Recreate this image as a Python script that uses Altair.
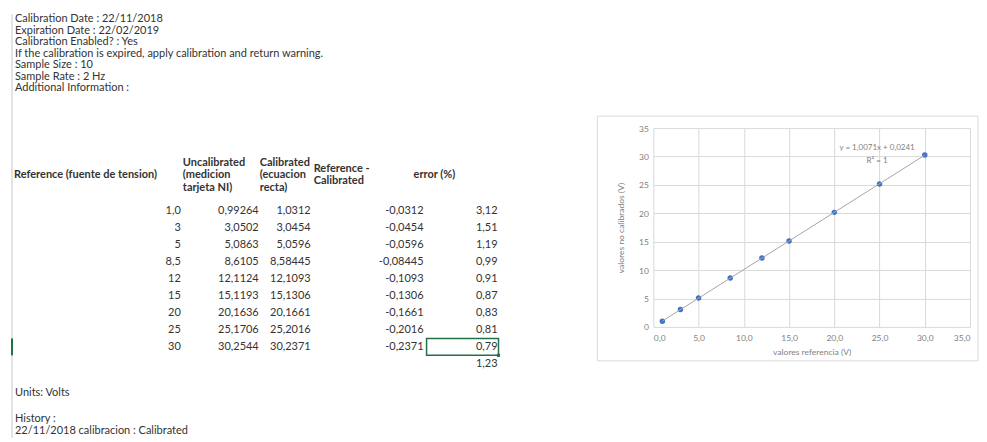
import altair as alt
import pandas as pd

FONT = "Lato"
FS = 11
TXT = "#333333"

# ---------------- data ----------------
info_lines = [
    "Calibration Date : 22/11/2018",
    "Expiration Date : 22/02/2019",
    "Calibration Enabled? : Yes",
    "If the calibration is expired, apply calibration and return warning.",
    "Sample Size : 10",
    "Sample Rate : 2 Hz",
    "Additional Information :",
]
headers = [
    "Reference (fuente de tension)",
    "Uncalibrated\n(medicion\ntarjeta NI)",
    "Calibrated\n(ecuacion\nrecta)",
    "Reference -\nCalibrated",
    "error (%)",
]
reference = [1.0, 3, 5, 8.5, 12, 15, 20, 25, 30]
uncalibrated = [0.99264, 3.0502, 5.0863, 8.6105, 12.1124, 15.1193, 20.1636, 25.1706, 30.2544]
calibrated = [1.0312, 3.0454, 5.0596, 8.58445, 12.1093, 15.1306, 20.1661, 25.2016, 30.2371]
ref_minus_cal = [-0.0312, -0.0454, -0.0596, -0.08445, -0.1093, -0.1306, -0.1661, -0.2016, -0.2371]
error_pct = [3.12, 1.51, 1.19, 0.99, 0.91, 0.87, 0.83, 0.81, 0.79]
error_mean = 1.23
selected_row = 8
footer_lines = ["Units: Volts", "History :", "22/11/2018 calibracion : Calibrated"]
x_ticks = [0, 5, 10, 15, 20, 25, 30, 35]
y_ticks = [0, 5, 10, 15, 20, 25, 30, 35]
trend_label = "y = 1,0071x + 0,0241"
r2_label = "R² = 1"
x_title = "valores referencia (V)"
y_title = "valores no calibrados (V)"


def fmt(v):
    return str(v).replace(".", ",")


columns = [reference, uncalibrated, calibrated, ref_minus_cal, error_pct]
cells = []
for r in range(len(reference)):
    for c, col in enumerate(columns):
        cells.append({"r": r, "c": c, "text": fmt(col[r])})
cells.append({"r": len(reference), "c": 4, "text": fmt(error_mean)})
cells_df = pd.DataFrame(cells)

info_df = pd.DataFrame({"i": list(range(len(info_lines))), "text": info_lines})
head_df = pd.DataFrame({
    "c": list(range(len(headers))),
    "text": headers,
    "n": [h.count("\n") + 1 for h in headers],
})
foot_df = pd.DataFrame({"k": list(range(len(footer_lines))), "text": footer_lines})
sel_df = pd.DataFrame({"r": [selected_row]})
dummy = pd.DataFrame({"a": [0]})
pts_df = pd.DataFrame({"ref": reference, "uncal": uncalibrated})
eq_df = pd.DataFrame({"label": [trend_label + "\n" + r2_label]})

# ---------------- left: spreadsheet ----------------
row_scale = alt.Scale(domain=[0, 9], range=[199, 352], nice=False, zero=False)
col_scale = alt.Scale(domain=[0, 1, 2, 3, 4], range=[172, 250, 302, 415, 489], nice=False, zero=False)
head_scale = alt.Scale(domain=[0, 1, 2, 3, 4], range=[5, 174, 251, 305, 405], nice=False, zero=False)
# first line of a wrapped header moves up so the block stays centred on the row
head_y_scale = alt.Scale(domain=[1, 3], range=[163, 150.5], nice=False, zero=False)

border = alt.Chart(dummy).mark_rule(color="#c8c8c8", strokeWidth=1).encode(
    x=alt.value(3), y=alt.value(2), y2=alt.value(426)
)
sel_base = alt.Chart(sel_df).transform_calculate(top="datum.r - 0.5", bot="datum.r + 0.5")
row_marker = sel_base.mark_rule(color="#217346", strokeWidth=2).encode(
    x=alt.value(3), y=alt.Y("top:Q", scale=row_scale, axis=None), y2="bot:Q"
)
sel_box = sel_base.mark_rect(fillOpacity=0, stroke="#217346", strokeWidth=1.5).encode(
    x=alt.value(418), x2=alt.value(490), y=alt.Y("top:Q", scale=row_scale, axis=None), y2="bot:Q"
)
sel_handle = sel_base.mark_square(size=10, color="#217346", opacity=1).encode(
    x=alt.value(490), y=alt.Y("bot:Q", scale=row_scale, axis=None)
)

info = alt.Chart(info_df).mark_text(
    align="left", baseline="middle", font=FONT, fontSize=FS, color=TXT
).encode(
    x=alt.value(6),
    y=alt.Y("i:Q", scale=alt.Scale(domain=[0, 6], range=[7, 76], nice=False, zero=False), axis=None),
    text="text:N",
)
head = alt.Chart(head_df).mark_text(
    align="left", baseline="middle", font=FONT, fontSize=FS, fontWeight="bold",
    color=TXT, lineBreak="\n", lineHeight=12.5
).encode(
    x=alt.X("c:Q", scale=head_scale, axis=None),
    y=alt.Y("n:Q", scale=head_y_scale, axis=None),
    text="text:N",
)
table = alt.Chart(cells_df).mark_text(
    align="right", baseline="middle", font=FONT, fontSize=FS, color=TXT
).encode(
    x=alt.X("c:Q", scale=col_scale, axis=None),
    y=alt.Y("r:Q", scale=row_scale, axis=None),
    text="text:N",
)
foot = alt.Chart(foot_df).mark_text(
    align="left", baseline="middle", font=FONT, fontSize=FS, color=TXT
).encode(
    x=alt.value(6),
    y=alt.Y("k:Q", scale=alt.Scale(domain=[0, 1, 2], range=[381, 407, 419], nice=False, zero=False), axis=None),
    text="text:N",
)

left = alt.layer(border, row_marker, info, head, table, sel_box, sel_handle, foot).resolve_scale(
    x="independent", y="independent"
).properties(width=500, height=424)

# ---------------- right: Excel scatter ----------------
X_ENC = alt.X("ref:Q", scale=alt.Scale(domain=[0, 35], nice=False, zero=False), axis=alt.Axis(
    values=x_ticks, title=x_title, grid=True, domain=False, ticks=False,
    labelPadding=7, titlePadding=5, labelOverlap=False,
    labelExpr="replace(format(datum.value, '.1f'), '.', ',')"))
Y_ENC = alt.Y("uncal:Q", scale=alt.Scale(domain=[0, 35], nice=False, zero=False), axis=alt.Axis(
    values=y_ticks, tickCount=8, title=y_title, grid=True, domain=False, ticks=False,
    labelPadding=5, titlePadding=13, labelOverlap=False))

frame = alt.Chart(dummy).mark_rect(fillOpacity=0, stroke="#d9d9d9", strokeWidth=1).encode(
    x=alt.value(-56), x2=alt.value(325), y=alt.value(-12), y2=alt.value(233)
)
points = alt.Chart(pts_df).mark_circle(size=30, color="#4472C4", opacity=1).encode(
    x=X_ENC, y=Y_ENC
)
trend = alt.Chart(pts_df).transform_regression("ref", "uncal").mark_line(
    color="#a6a6a6", strokeWidth=1
).encode(x=X_ENC, y=Y_ENC)
eq = alt.Chart(eq_df).mark_text(
    align="center", baseline="middle", font=FONT, fontSize=8, color="#7f7f7f",
    lineBreak="\n", lineHeight=13
).encode(x=alt.value(224), y=alt.value(20), text="label:N")

plot = alt.layer(frame, points, trend, eq).properties(width=317, height=199)
spacer = alt.Chart(dummy).mark_point(opacity=0).encode(
    x=alt.value(0), y=alt.value(0)
).properties(width=317, height=100)
right = alt.vconcat(spacer, plot, spacing=16, bounds="flush")

chart = alt.hconcat(left, right, spacing=145, bounds="flush").properties(
    padding=0
).configure_view(stroke="transparent").configure_axis(
    labelFont=FONT, titleFont=FONT, labelColor="#7f7f7f", titleColor="#7f7f7f",
    labelFontSize=8.5, titleFontSize=8.5, titleFontWeight="normal",
    gridColor="#d9d9d9", gridWidth=1
)

chart.save("out.html", embed_options={"renderer": "svg", "actions": False})
